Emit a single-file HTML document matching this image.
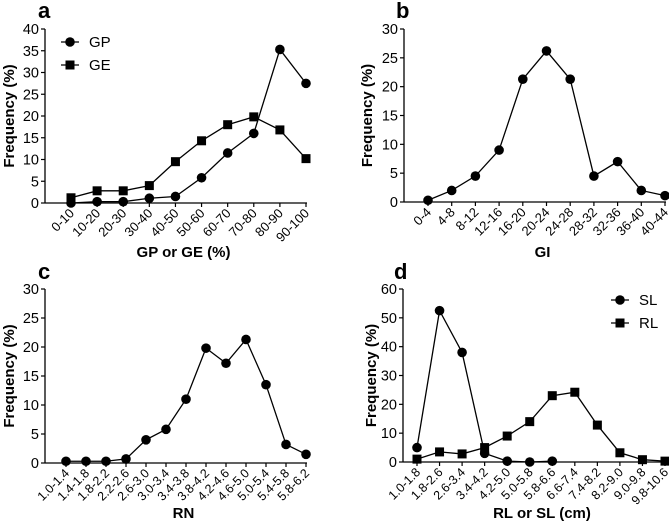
<!DOCTYPE html>
<html><head><meta charset="utf-8"><style>
body{margin:0;background:#fff;}
svg{display:block;font-family:"Liberation Sans",sans-serif;}
</style></head><body>
<svg id="s" width="669" height="524" viewBox="0 0 669 524"></svg>
<script>
const catA=["0-10","10-20","20-30","30-40","40-50","50-60","60-70","70-80","80-90","90-100"];
const gpA=[0,0.3,0.3,1.1,1.5,5.8,11.5,16,35.3,27.5];
const geA=[1.2,2.8,2.8,4,9.5,14.3,18,19.8,16.8,10.2];
const ticksA=[0,5,10,15,20,25,30,35,40];
const catB=["0-4","4-8","8-12","12-16","16-20","20-24","24-28","28-32","32-36","36-40","40-44"];
const giB=[0.3,2,4.5,9,21.3,26.2,21.3,4.5,7,2,1.1];
const ticksB=[0,5,10,15,20,25,30];
const catC=["1.0-1.4","1.4-1.8","1.8-2.2","2.2-2.6","2.6-3.0","3.0-3.4","3.4-3.8","3.8-4.2","4.2-4.6","4.6-5.0","5.0-5.4","5.4-5.8","5.8-6.2"];
const rnC=[0.3,0.3,0.3,0.7,4,5.8,11,19.8,17.2,21.3,13.5,3.2,1.5];
const ticksC=[0,5,10,15,20,25,30];
const catD=["1.0-1.8","1.8-2.6","2.6-3.4","3.4-4.2","4.2-5.0","5.0-5.8","5.8-6.6","6.6-7.4","7.4-8.2","8.2-9.0","9.0-9.8","9.8-10.6"];
const slD=[5,52.5,38,3,0.3,0,0.3];
const rlD=[1,3.5,2.8,5,9,14,23,24.2,12.8,3.2,0.8,0.3];
const ticksD=[0,10,20,30,40,50,60];

const S=document.getElementById('s');
const NS="http://www.w3.org/2000/svg";
function mk(tag,attrs,parent,text){const e=document.createElementNS(NS,tag);for(const k in attrs)e.setAttribute(k,attrs[k]);if(text!==undefined)e.textContent=text;(parent||S).appendChild(e);return e;}

function panel(o){
  const g=mk('g',{});
  
  
  const ymax=o.ticks[o.ticks.length-1];
  const yS=v=>o.y0-(v/ymax)*(o.y0-o.y1);
  const n=o.cats.length;
  const xS=i=>o.c0+i*(o.c1-o.c0)/(n-1);
  const lt=mk('text',{x:o.lx,y:o.ly,'font-size':22,'font-weight':'bold'},g,o.id);
  
  
  mk('line',{x1:o.ax,y1:o.y0,x2:o.ax,y2:o.y1,stroke:'#000','stroke-width':1.3},g);
  mk('line',{x1:o.ax,y1:o.y0,x2:o.c1+1,y2:o.y0,stroke:'#000','stroke-width':1.3},g);
  o.ticks.forEach(t=>{
    const y=yS(t);
    mk('line',{x1:o.ax-4,y1:y,x2:o.ax,y2:y,stroke:'#000','stroke-width':1.2},g);
    const tx=mk('text',{x:o.ax-6,y:y+5,'font-size':14.5,'text-anchor':'end'},g,t);
    
    
  });
  o.cats.forEach((c,i)=>{
    const x=xS(i);
    mk('line',{x1:x,y1:o.y0,x2:x,y2:o.y0+4,stroke:'#000','stroke-width':1.2},g);
    const tx=mk('text',{x:x+4,y:o.y0+11,'font-size':o.fs,'text-anchor':'end',transform:`rotate(-45 ${x+4} ${o.y0+11})`},g,c);
    
    
  });
  const yt=mk('text',{x:0,y:0,'font-size':15,'font-weight':'bold','text-anchor':'middle',transform:`translate(${o.ytx},${(o.y0+o.y1)/2}) rotate(-90)`},g,'Frequency (%)');
  
  
  const xt=mk('text',{x:(o.ax+o.c1)/2+8,y:o.xty,'font-size':15,'font-weight':'bold','text-anchor':'middle'},g,o.xtitle);
  
  
  o.series.forEach(s=>{
    const pts=s.vals.map((v,i)=>xS(i)+','+yS(v)).join(' ');
    const pl=mk('polyline',{points:pts,fill:'none',stroke:'#000','stroke-width':1.3},g);
    
    
    s.vals.forEach((v,i)=>{
      let m;
      if(s.shape==='sq') m=mk('rect',{x:xS(i)-4.5,y:yS(v)-4.5,width:9,height:9,fill:'#000'},g);
      else m=mk('circle',{cx:xS(i),cy:yS(v),r:4.8,fill:'#000'},g);
      
      
    });
  });
  if(o.legend){
    o.series.forEach((s,k)=>{
      const ly=o.legend.y+k*23;
      const lg=mk('g',{},g);
      
      
      mk('line',{x1:o.legend.x,y1:ly,x2:o.legend.x+18,y2:ly,stroke:'#000','stroke-width':1.3},lg);
      if(s.shape==='sq') mk('rect',{x:o.legend.x+4.5,y:ly-4.5,width:9,height:9},lg);
      else mk('circle',{cx:o.legend.x+9,cy:ly,r:4.8},lg);
      mk('text',{x:o.legend.x+28,y:ly+5,'font-size':15},lg,s.name);
    });
  }
}
panel({id:'a',cats:catA,ticks:ticksA,ax:45,y0:203,y1:29,c0:71,c1:306,lx:38,ly:18,fs:13,ytx:14,xty:257,xtitle:'GP or GE (%)',
  series:[{name:'GP',vals:gpA,shape:'c'},{name:'GE',vals:geA,shape:'sq'}],legend:{x:61,y:42}});
panel({id:'b',cats:catB,ticks:ticksB,ax:404,y0:202,y1:29,c0:428,c1:665,lx:396,ly:18,fs:13,ytx:372,xty:257,xtitle:'GI',
  series:[{name:'GI',vals:giB,shape:'c'}]});
panel({id:'c',cats:catC,ticks:ticksC,ax:45,y0:463,y1:289,c0:66,c1:306,lx:38,ly:279,fs:12.5,ytx:14,xty:518,xtitle:'RN',
  series:[{name:'RN',vals:rnC,shape:'c'}]});
panel({id:'d',cats:catD,ticks:ticksD,ax:403,y0:462,y1:289,c0:417,c1:665,lx:394,ly:279,fs:12.5,ytx:376,xty:518,xtitle:'RL or SL (cm)',
  series:[{name:'SL',vals:slD,shape:'c'},{name:'RL',vals:rlD,shape:'sq'}],legend:{x:611,y:300}});
</script>
</body></html>
